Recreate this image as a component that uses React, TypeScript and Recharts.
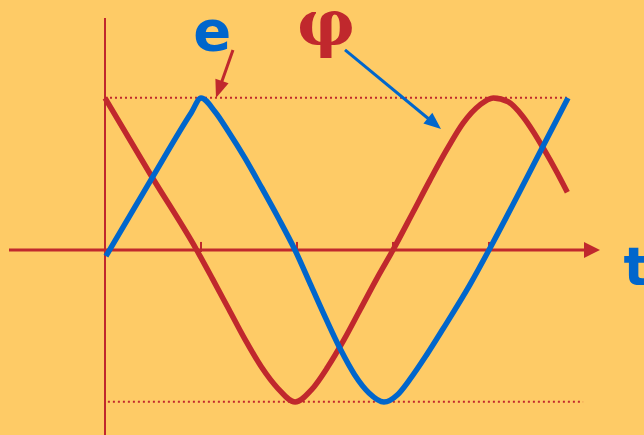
import React from "react";
import { ComposedChart, Line, XAxis, YAxis, ReferenceLine, ReferenceDot } from "recharts";

// t in quarter periods (axis ticks at 1..4), v in amplitudes
const E_POINTS: [number, number][] = [
  [0.01, -0.04], [0.5, 0.485], [0.9, 0.905], [1.0, 1.0], [1.146, 0.91],
  [1.285, 0.78], [1.458, 0.605], [1.632, 0.41], [1.806, 0.21], [1.979, 0],
  [2.15, -0.24], [2.3, -0.45], [2.45, -0.65], [2.6, -0.82], [2.75, -0.94],
  [2.906, -1.0], [3.05, -0.95], [3.177, -0.85], [3.35, -0.69], [3.52, -0.52],
  [3.8, -0.23], [4.0, 0], [4.3, 0.36], [4.56, 0.68], [4.823, 1.0],
];

const PHI_POINTS: [number, number][] = [
  [0, 1.0], [0.48, 0.49], [0.955, 0], [1.12, -0.19], [1.29, -0.39],
  [1.46, -0.59], [1.63, -0.77], [1.8, -0.91], [1.98, -1.0], [2.15, -0.92],
  [2.32, -0.77], [2.49, -0.59], [2.66, -0.39], [2.83, -0.19], [3.0, 0],
  [3.21, 0.25], [3.385, 0.46], [3.56, 0.66], [3.73, 0.835], [3.906, 0.955],
  [4.045, 1.0], [4.2, 0.975], [4.35, 0.88], [4.46, 0.78], [4.57, 0.665],
  [4.7, 0.52], [4.816, 0.38],
];

const TICKS = [1, 2, 3, 4];

const BG = "#FECB66";
const RED = "#C0282D";
const BLUE = "#0066CC";

const eData = E_POINTS.map(([t, v]) => ({ t, v }));
const phiData = PHI_POINTS.map(([t, v]) => ({ t, v }));

function arrow(color: string, len: number, half: number, width: number) {
  return (p: any) => {
    const { x1, y1, x2, y2 } = p;
    const dx = x2 - x1;
    const dy = y2 - y1;
    const d = Math.hypot(dx, dy) || 1;
    const ux = dx / d;
    const uy = dy / d;
    const bx = x2 - ux * len;
    const by = y2 - uy * len;
    const pts = `${x2},${y2} ${bx - uy * half},${by + ux * half} ${bx + uy * half},${by - ux * half}`;
    return (
      <g>
        <line x1={x1} y1={y1} x2={bx + ux * 2} y2={by + uy * 2} stroke={color} strokeWidth={width} />
        <polygon points={pts} fill={color} />
      </g>
    );
  };
}

function label(text: string, color: string, size: number, family: string) {
  return (p: any) => (
    <text x={p.cx} y={p.cy} fill={color} fontSize={size} fontWeight="bold" fontFamily={family}>
      {text}
    </text>
  );
}

export default function App() {
  return (
    <div style={{ width: 644, height: 435, background: BG }}>
      <style>{"body{margin:0}"}</style>
      <ComposedChart width={644} height={435} margin={{ top: 0, right: 0, bottom: 0, left: 0 }}>
        <XAxis type="number" dataKey="t" domain={[-1.09375, 5.6146]} hide allowDataOverflow />
        <YAxis type="number" dataKey="v" domain={[-1.2171, 1.6447]} hide allowDataOverflow />

        <ReferenceLine segment={[{ x: 0, y: 1.002 }, { x: 4.823, y: 1.002 }]} stroke={RED} strokeWidth={2} strokeDasharray="2 3" ifOverflow="visible" />
        <ReferenceLine segment={[{ x: 0.03, y: -0.998 }, { x: 4.98, y: -0.998 }]} stroke={RED} strokeWidth={2} strokeDasharray="2 3" ifOverflow="visible" />

        <ReferenceLine segment={[{ x: 0, y: 1.526 }, { x: 0, y: -1.2171 }]} stroke={RED} strokeWidth={2} ifOverflow="visible" />
        <ReferenceLine
          segment={[{ x: -1.0, y: 0 }, { x: 5.156, y: 0 }]}
          ifOverflow="visible"
          shape={arrow(RED, 16, 8, 3)}
        />
        {TICKS.map((k) => (
          <ReferenceLine key={k} segment={[{ x: k, y: 0.053 }, { x: k, y: -0.013 }]} stroke={RED} strokeWidth={2} ifOverflow="visible" />
        ))}

        <Line data={phiData} dataKey="v" type="monotone" stroke={RED} strokeWidth={5.5} dot={false} activeDot={false} isAnimationActive={false} />
        <Line data={eData} dataKey="v" type="monotone" stroke={BLUE} strokeWidth={5.5} dot={false} activeDot={false} isAnimationActive={false} />

        <ReferenceLine
          segment={[{ x: 1.333, y: 1.316 }, { x: 1.156, y: 1.0 }]}
          ifOverflow="visible"
          shape={arrow(RED, 18, 7, 3)}
        />
        <ReferenceLine
          segment={[{ x: 2.5, y: 1.316 }, { x: 3.5, y: 0.796 }]}
          ifOverflow="visible"
          shape={arrow(BLUE, 17, 7, 3)}
        />

        <ReferenceDot x={0.92} y={1.316} r={0} ifOverflow="visible" shape={label("e", BLUE, 56, "DejaVu Sans, sans-serif")} />
        <ReferenceDot x={2.0} y={1.35} r={0} ifOverflow="visible" shape={label("φ", RED, 64, "DejaVu Serif, serif")} />
        <ReferenceDot x={5.4} y={-0.23} r={0} ifOverflow="visible" shape={label("t", BLUE, 54, "DejaVu Sans, sans-serif")} />
      </ComposedChart>
    </div>
  );
}
